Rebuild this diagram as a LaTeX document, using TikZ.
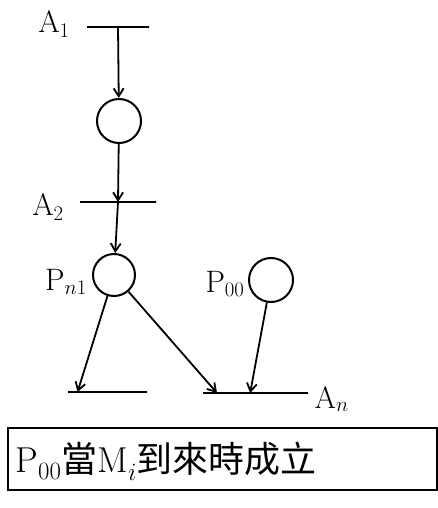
\documentclass[tikz,border=0pt]{standalone}
\usepackage{fontspec}
\newfontfamily\cjk{Noto Sans CJK TC}
\usetikzlibrary{arrows.meta,calc}
\begin{document}
\begin{tikzpicture}[x=1pt,y=-1pt,
  place/.style={circle,draw,line width=2pt,minimum size=44pt,inner sep=0pt},
  trans/.style={rectangle,draw,line width=2pt,minimum height=0pt,inner sep=0pt},
  arc/.style={line width=1.8pt,-{Straight Barb[length=8pt,width=10pt]}},
  lbl/.style={font=\fontsize{31}{34}\selectfont}]
\useasboundingbox (0,0) rectangle (438,508);
\node[trans,minimum width=62pt] (t1) at (118,27) {};
\node[lbl] (la1) at (54,24) {A$_1$};
\node[place] (p1) at (119,121) {};
\node[trans,minimum width=76pt] (t2) at (118,202) {};
\node[lbl] (la2) at (48,207) {A$_2$};
\node[place,minimum size=42pt] (pn1) at (114,275) {};
\node[lbl] (lpn1) at (66,282) {P$_{n1}$};
\node[place] (p00) at (271,280) {};
\node[lbl] (lp00) at (225,284) {P$_{00}$};
\node[trans,minimum width=79pt] (t3) at (107.5,392) {};
\node[trans,minimum width=105pt] (t4) at (255.5,393) {};
\node[lbl,anchor=west] (lan) at (311,399) {A$_n$};
\draw[arc] (t1.center) -- (p1);
\draw[arc] (p1) -- (t2.center);
\draw[arc] (t2.center) -- (pn1);
\coordinate (e1) at ($(t3.west)!0.13!(t3.east)$);
\coordinate (e2) at ($(t4.west)!0.14!(t4.east)$);
\coordinate (e3) at ($(t4.west)!0.45!(t4.east)$);
\draw[arc] (pn1) -- (e1);
\draw[arc] (pn1) -- (e2);
\draw[arc] (p00) -- (e3);
\node[draw,line width=1.8pt,minimum width=429pt,minimum height=62pt,inner sep=0pt] (box) at (222.5,459) {};
\node[anchor=west,font=\fontsize{36}{40}\selectfont] (txt) at (12,461) {P$_{00}${\cjk 當}M$_i${\cjk 到來時成立}};
\end{tikzpicture}
\end{document}
